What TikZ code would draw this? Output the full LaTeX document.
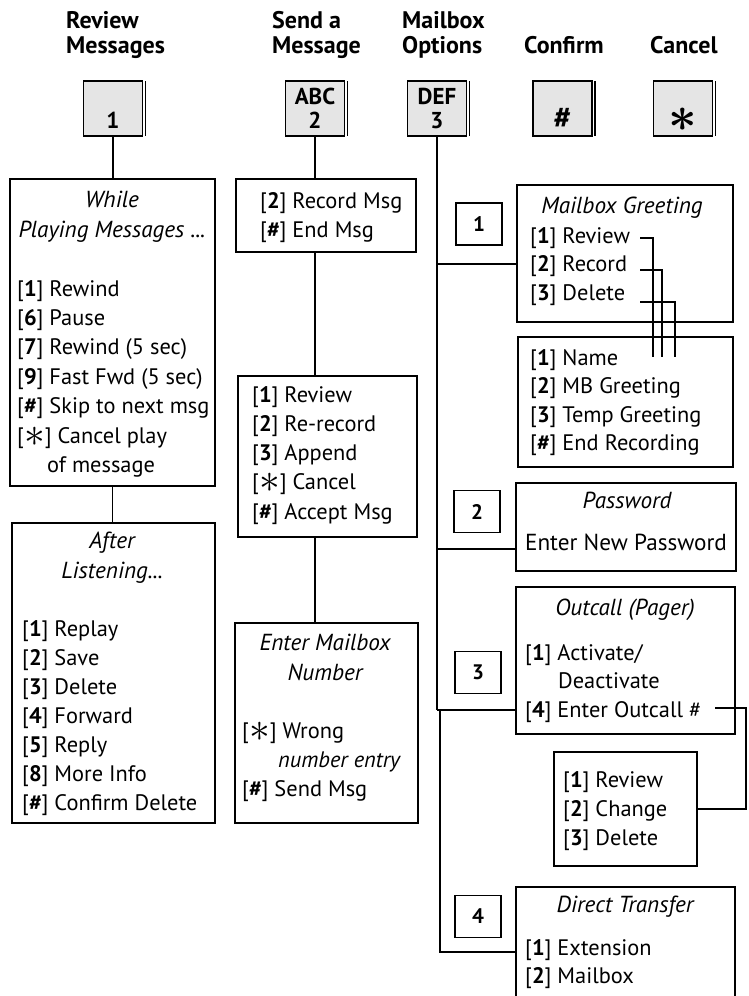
\documentclass[tikz,border=0pt]{standalone}
\usepackage{fontspec}
\setmainfont{PT Sans}
\usepackage{graphicx}

\definecolor{keygray}{gray}{0.9}
\newcommand{\kb}[1]{[\textbf{#1}]}
\newcommand{\ka}{[\smash{\raisebox{-3pt}{\scalebox{2}{$\ast$}}}]}
\newcommand{\lines}[1]{\begin{tabular}[t]{@{}l@{}}#1\end{tabular}}

\begin{document}
\begin{tikzpicture}[x=1pt, y=-1pt,
    key/.style={draw, fill=keygray, line width=1.8pt, minimum width=59pt, minimum height=55pt,
      inner sep=0pt, outer sep=0pt, align=center, font=\bfseries\fontsize{23}{24}\selectfont},
    opt/.style={draw, line width=1.8pt, minimum width=46pt, minimum height=42pt,
      inner sep=0pt, outer sep=0pt, font=\bfseries\fontsize{21}{24}\selectfont},
    panel/.style={draw, line width=1.8pt, inner sep=0pt, outer sep=0pt},
    head/.style={anchor=base west, inner sep=0pt, font=\bfseries\fontsize{24}{25}\selectfont},
    body/.style={anchor=base west, inner sep=0pt, font=\fontsize{22.4}{29}\selectfont},
    ttl/.style={anchor=base, inner sep=0pt, font=\itshape\fontsize{23.2}{29}\selectfont},
    mid/.style={anchor=base, inner sep=0pt, font=\fontsize{23.2}{29}\selectfont},
    link/.style={line width=1.8pt}
  ]
  \useasboundingbox (0,0) rectangle (748,996);
  \clip (0,0) rectangle (748,996);

  % headings
  \node[head] (hrev) at (66,28) {\lines{Review\\Messages}};
  \node[head] (hsnd) at (272,28) {\lines{Send a\\Message}};
  \node[head] (hopt) at (402,28) {\lines{Mailbox\\Options}};
  \node[head] (hcnf) at (524,53) {Confirm};
  \node[head] (hcnc) at (650,53) {Cancel};

  % keys
  \node[key] (k1) at (113,108.5) {\phantom{A}\\1};
  \node[key] (k2) at (315,108.5) {ABC\\2};
  \node[key] (k3) at (437,108.5) {DEF\\3};
  \node[key] (k4) at (562.5,108.5) {\phantom{A}\\\scalebox{1.35}{\#}};
  \node[key] (k5) at (683,108.5) {\phantom{A}\\\raisebox{-6pt}{\scalebox{2}{\boldmath$\ast$}}};
  \foreach \k in {k1,k2,k3,k4,k5}
    \draw[line width=1.5pt] ([xshift=3pt]\k.north east) -- ([xshift=3pt]\k.south east);

  % review messages
  \node[panel, minimum width=205pt, minimum height=307pt] (play) at (112.5,332.5) {};
  \node[ttl] (playt1) at (112,207) {While};
  \node[ttl] (playt2) at (112,237) {Playing Messages ...};
  \node[body, font=\fontsize{22.4}{29.4}\selectfont] (playtx) at (17,296)
    {\lines{\kb{1} Rewind\\ \kb{6} Pause\\ \kb{7} Rewind (5 sec)\\ \kb{9} Fast Fwd (5 sec)\\
      \kb{\#} Skip to next msg\\ \ka{} Cancel play\\ \hspace*{30pt}of message}};

  \node[panel, minimum width=203pt, minimum height=300pt] (after) at (113.5,673) {};
  \node[ttl] (aftt1) at (112,548) {After};
  \node[ttl] (aftt2) at (112,578) {Listening...};
  \node[body] (afttx) at (22,636)
    {\lines{\kb{1} Replay\\ \kb{2} Save\\ \kb{3} Delete\\ \kb{4} Forward\\ \kb{5} Reply\\
      \kb{8} More Info\\ \kb{\#} Confirm Delete}};

  % send a message
  \node[panel, minimum width=180pt, minimum height=73pt] (rec) at (326,215.5) {};
  \node[body] (rectx) at (260,208) {\lines{\kb{2} Record Msg\\ \kb{\#} End Msg}};

  \node[panel, minimum width=179pt, minimum height=161pt] (edit) at (327.5,456.5) {};
  \node[body, font=\fontsize{22.4}{29.3}\selectfont] (edittx) at (252,402)
    {\lines{\kb{1} Review\\ \kb{2} Re-record\\ \kb{3} Append\\ \ka{} Cancel\\ \kb{\#} Accept Msg}};

  \node[panel, minimum width=183pt, minimum height=200pt] (dest) at (326.5,723) {};
  \node[ttl] (destt1) at (325,650) {Enter Mailbox};
  \node[ttl] (destt2) at (325,680) {Number};
  \node[body] (desttx) at (242,738)
    {\lines{\ka{} Wrong\\ \hspace*{36pt}\textit{number entry}\\ \kb{\#} Send Msg}};

  % mailbox options
  \node[opt] (o1) at (479,224) {1};
  \node[opt] (o2) at (477,511.5) {2};
  \node[opt] (o3) at (478,672.5) {3};
  \node[opt] (o4) at (478,916.5) {4};

  \node[panel, minimum width=216pt, minimum height=137pt] (greet) at (625,253.5) {};
  \node[ttl] (greett) at (622,213) {Mailbox Greeting};
  \node[body, font=\fontsize{22.4}{28.5}\selectfont] (greettx) at (530,243)
    {\lines{\kb{1} Review\\ \kb{2} Record\\ \kb{3} Delete}};

  \node[panel, minimum width=215pt, minimum height=130pt] (recsel) at (625.5,402) {};
  \node[body, font=\fontsize{22.4}{28.5}\selectfont] (recseltx) at (530,365)
    {\lines{\kb{1} Name\\ \kb{2} MB Greeting\\ \kb{3} Temp Greeting\\ \kb{\#} End Recording}};

  \node[panel, minimum width=220pt, minimum height=88pt] (pass) at (626,527) {};
  \node[ttl] (passt) at (627,508) {Password};
  \node[mid] (passtx) at (626,550) {Enter New Password};

  \node[panel, minimum width=219pt, minimum height=147pt] (outc) at (625.5,660.5) {};
  \node[ttl] (outct) at (625,615) {Outcall (Pager)};
  \node[body, font=\fontsize{22.4}{28.5}\selectfont] (outctx) at (525,660)
    {\lines{\kb{1} Activate/\\ \hspace*{33pt}Deactivate\\ \kb{4} Enter Outcall \#}};

  \node[panel, minimum width=143pt, minimum height=114pt] (pager) at (625.5,809) {};
  \node[body] (pagertx) at (563,787) {\lines{\kb{1} Review\\ \kb{2} Change\\ \kb{3} Delete}};

  \node[panel, minimum width=219pt, minimum height=123pt] (dtr) at (625.5,948.5) {};
  \node[ttl] (dtrt) at (625,912) {Direct Transfer};
  \node[body, font=\fontsize{22.4}{28}\selectfont] (dtrtx) at (525,955)
    {\lines{\kb{1} Extension\\ \kb{2} Mailbox}};

  % connectors
  \draw[link] (k1.south) -- (k1.south |- play.north);
  \draw[link] (play.south) -- (play.south |- after.north);
  \draw[link] (k2.south) -- (k2.south |- rec.north);
  \draw[link] (rec.south -| k2) -- (k2 |- edit.north);
  \draw[link] (edit.south -| k2) -- (k2 |- dest.north);

  \coordinate (t1) at (437,264);
  \coordinate (t2) at (437,549);
  \coordinate (t3) at (437,710);
  \coordinate (t4) at (440,952);
  \draw[link] (k3.south) -- (t3);
  \draw[link] (t1) -- (t1 -| greet.west);
  \draw[link] (t2) -- (t2 -| pass.west);
  \draw[link] (t3) -- (t3 -| outc.west);
  \draw[link] (t3 -| t4) -- (t4) -- (t4 -| dtr.west);

  \coordinate (gr1) at (640,238);
  \coordinate (gr2) at (640,270);
  \coordinate (gr3) at (640,302);
  \coordinate (nm1) at (653,357);
  \coordinate (nm2) at (662,357);
  \coordinate (nm3) at (675,357);
  \draw[link] (gr1) -| (nm1);
  \draw[link] (gr2) -| (nm2);
  \draw[link] (gr3) -| (nm3);

  \coordinate (oc) at (715,708);
  \draw[link] (oc) -- ++(31,0) |- (pager.east);
\end{tikzpicture}
\end{document}
